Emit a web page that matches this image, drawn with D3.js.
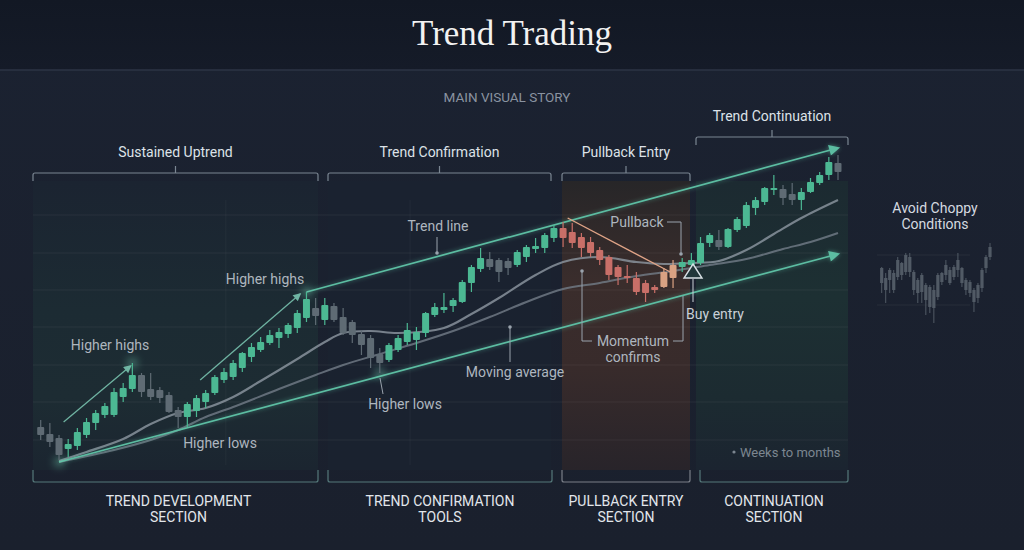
<!DOCTYPE html>
<html><head><meta charset="utf-8">
<script src="https://cdn.jsdelivr.net/npm/d3@7"></script>
<style>html,body{margin:0;padding:0;background:#1a2130;}svg{display:block}</style>
</head><body><svg id="chart" width="1024" height="550"></svg>
<script>
// ---------- DATA ----------
const opens  = [43,36,32,21,24,35,47,55,55,73, 81,95,81,80,75,60,53,59,68,77, 90,93,102,113,120,127,132,136,142,152, 162,150,164,153,148,136,132,116,110,120, 128,130,137,155,160,164,168,187,201,211, 210,209,205,213,221,222,232,242,238,233, 228,220,213,203,194,192,187,183,183,192, 203,205,207,227,230,223,240,244,262,268, 280,281,276,270,278,287,295,307];
const highs  = [50,47,35,31,42,52,60,67,82,87, 107,97,97,83,78,63,68,75,80,95, 102,110,118,127,133,140,142,147,160,178, 172,172,167,162,150,140,135,122,127,135, 147,143,158,167,177,172,190,205,222,218, 212,212,220,225,232,237,245,248,247,237, 233,223,215,205,205,198,190,185,202,210, 212,217,233,237,240,242,253,268,273,283, 295,285,287,282,292,298,313,315];
const lows   = [30,23,10,13,20,32,40,52,53,68, 78,73,70,67,57,42,43,53,62,75, 87,90,98,108,118,125,122,132,137,148, 145,145,148,135,127,115,102,97,108,118, 125,120,133,153,157,158,167,178,198,200, 188,195,203,208,217,217,228,223,222,213, 213,205,190,185,187,175,168,177,182,182, 198,202,205,223,220,222,238,242,255,265, 275,265,265,260,277,285,290,290];
const closes = [35,28,15,26,38,48,57,64,78,82, 95,78,73,72,58,53,66,72,77,93, 98,107,117,123,128,135,138,145,157,171, 154,165,150,137,135,125,112,107,125,132, 140,138,157,163,163,170,188,203,212,203, 198,202,218,223,224,235,242,232,227,222, 217,210,195,193,192,178,177,180,198,205, 208,210,227,235,223,241,251,265,270,282, 282,272,270,278,288,295,308,298];

const fastMAIdx = [2,5,9,12,15,18,21,24,28,31,33,36,39,44,47,50,54,57,61,65,68,71,74,77,80,83,87];
const fastMA    = [9,18,31,46,57,62,73,89,111,128,137,139,137,142,156,172,195,208,213,208,206,207,209,220,236,252,270];
const slowMAIdx = [2,8,12,15,18,21,26,30,33,37,41,45,49,53,57,61,65,69,73,77,81,84,87];
const slowMA    = [8,20,30,40,53,63,81,95,105,116,127,139,153,168,181,187,194,199,205,211,221,228,237];

const channelTop = [[29,178],[87,322]];
const channelBottom = [[2,8],[87,216]];
const higherHighs1 = [[2.5,48],[9.8,104]];
const higherHighs2 = [[17.4,90],[28.3,176]];
const pullbackLine = [[57.5,252],[68.7,198]];
const pullbackRange = [57,69];

const chopOpens  = [187,192,190,197,193,207,198,213,198,190,178,185,183,180,173,188,195,200,193,200,202,190,188,180,172,182,202,213];
const chopHighs  = [203,197,202,200,213,208,217,217,200,192,197,187,185,185,197,198,210,203,205,217,203,192,190,182,187,202,215,227];
const chopLows   = [177,167,177,177,190,190,195,193,175,167,167,155,157,147,170,185,190,185,190,193,183,175,173,158,167,178,197,210];
const chopCloses = [202,180,200,180,210,195,215,198,180,177,195,170,163,162,195,197,205,187,203,210,187,180,177,168,185,200,213,223];

const topSections = [
  {label:"Sustained Uptrend", x0:33, x1:318, y:173},
  {label:"Trend Confirmation", x0:328, x1:551, y:173},
  {label:"Pullback Entry", x0:562, x1:690, y:173},
  {label:"Trend Continuation", x0:696, x1:848, y:137}
];
const bottomSections = [
  {lines:["TREND DEVELOPMENT","SECTION"], x0:33, x1:318},
  {lines:["TREND CONFIRMATION","TOOLS"], x0:328, x1:552},
  {lines:["PULLBACK ENTRY","SECTION"], x0:562, x1:690},
  {lines:["CONTINUATION","SECTION"], x0:700, x1:848}
];

// ---------- SETUP ----------
const svg = d3.select("#chart");
const W = 1024, H = 550;
const x = d3.scaleLinear().domain([0, 87]).range([40.7, 838]);
const y = d3.scaleLinear().domain([0, 320]).range([470, 150]);
const xc = d3.scaleLinear().domain([0, 27]).range([881.7, 990]);

const defs = svg.append("defs");
const glow = defs.append("filter").attr("id","glow").attr("x","-20%").attr("y","-50%").attr("width","140%").attr("height","200%");
glow.append("feGaussianBlur").attr("stdDeviation",2).attr("result","b");
const ct = glow.append("feComponentTransfer").attr("in","b").attr("result","b2");
ct.append("feFuncA").attr("type","linear").attr("slope",0.6);
const fm = glow.append("feMerge"); fm.append("feMergeNode").attr("in","b2"); fm.append("feMergeNode").attr("in","SourceGraphic");
const glow2 = defs.append("filter").attr("id","softglow").attr("x","-100%").attr("y","-100%").attr("width","300%").attr("height","300%");
glow2.append("feGaussianBlur").attr("stdDeviation",4);

function vgrad(id, stops){
  const g = defs.append("linearGradient").attr("id",id).attr("x1",0).attr("y1",0).attr("x2",0).attr("y2",1);
  stops.forEach(s=>g.append("stop").attr("offset",s[0]).attr("stop-color",s[1]));
}
vgrad("bgGrad",[[0,"#1b2231"],[1,"#1a202d"]]);
vgrad("hdrGrad",[[0,"#121824"],[1,"#151b28"]]);
vgrad("s1",[[0,"#1b2431"],[0.45,"#1c2b33"],[0.75,"#1d2c33"],[1,"#1b2530"]]);
vgrad("s2",[[0,"#1a2230"],[1,"#1a222f"]]);
vgrad("s3",[[0,"#272628"],[0.35,"#3a2d2c"],[0.65,"#382b2b"],[1,"#28242a"]]);
vgrad("s4",[[0,"#1c2a31"],[0.4,"#1d3033"],[0.75,"#1c2b31"],[1,"#1b2430"]]);

const mk = (id, color, w, h) => {
  defs.append("marker").attr("id",id).attr("viewBox","0 0 10 10").attr("refX",8).attr("refY",5)
    .attr("markerWidth",w).attr("markerHeight",h).attr("orient","auto").attr("markerUnits","userSpaceOnUse")
    .append("path").attr("d","M0,0 L10,5 L0,10 z").attr("fill",color);
};
mk("arrowBig","#5cbda2",15,11);
mk("arrowSmall","#6fb3a2",9,8);

// ---------- BACKGROUND ----------
svg.append("rect").attr("width",W).attr("height",H).attr("fill","url(#bgGrad)");
svg.append("rect").attr("width",W).attr("height",70).attr("fill","url(#hdrGrad)");
svg.append("line").attr("x1",0).attr("x2",W).attr("y1",70).attr("y2",70).attr("stroke","#2d3545").attr("stroke-width",1.5);

svg.append("text").attr("x",512).attr("y",45).attr("text-anchor","middle")
  .attr("font-family","'Liberation Serif','DejaVu Serif',serif").attr("font-size",35).attr("fill","#f2f2f2").text("Trend Trading");
svg.append("text").attr("x",507).attr("y",102).attr("text-anchor","middle")
  .attr("font-family","Roboto,sans-serif").attr("font-size",13.5).attr("fill","#8a93a0").text("MAIN VISUAL STORY");

// section panels
const panelFills = ["url(#s1)","url(#s2)","url(#s3)","url(#s4)"];
topSections.forEach((s,i)=>{
  svg.append("rect").attr("x",s.x0).attr("y",181).attr("width",s.x1-s.x0).attr("height",289).attr("fill",panelFills[i]);
});

// grid
const gridVals = [255,217,180,143,105,68,30];
svg.append("g").selectAll("line").data(gridVals).join("line")
  .attr("x1",33).attr("x2",848).attr("y1",d=>y(d)).attr("y2",d=>y(d))
  .attr("stroke","#ffffff").attr("stroke-opacity",0.06);
svg.append("g").selectAll("line").data([20.2,40.3]).join("line")
  .attr("x1",d=>x(d)).attr("x2",d=>x(d)).attr("y1",200).attr("y2",465)
  .attr("stroke","#ffffff").attr("stroke-opacity",0.04);

// brackets top
const bc = "#7b8692";
topSections.forEach(s=>{
  const mid=(s.x0+s.x1)/2;
  svg.append("path").attr("d",`M${s.x0},${s.y+8} L${s.x0},${s.y+2} Q${s.x0},${s.y} ${s.x0+2},${s.y} L${s.x1-2},${s.y} Q${s.x1},${s.y} ${s.x1},${s.y+2} L${s.x1},${s.y+8} M${mid},${s.y} L${mid},${s.y-7}`)
    .attr("fill","none").attr("stroke",bc).attr("stroke-width",1.2);
  svg.append("text").attr("x",mid).attr("y",s.y-16).attr("text-anchor","middle")
    .attr("font-family","Roboto,sans-serif").attr("font-size",14).attr("fill","#dde2e8").text(s.label);
});
// brackets bottom
bottomSections.forEach((s,i)=>{
  const yb=482;
  svg.append("path").attr("d",`M${s.x0},470 L${s.x0},${yb-2} Q${s.x0},${yb} ${s.x0+2},${yb} L${s.x1-2},${yb} Q${s.x1},${yb} ${s.x1},${yb-2} L${s.x1},470`)
    .attr("fill","none").attr("stroke", i===2?"#7a7f88":"#55787a").attr("stroke-width",1.2);
  const mid=(s.x0+s.x1)/2 + (i===0?3:0);
  s.lines.forEach((t,j)=>{
    svg.append("text").attr("x",mid).attr("y",506+j*16).attr("text-anchor","middle")
      .attr("font-family","Roboto,sans-serif").attr("font-size",14).attr("fill","#e2e6eb").text(t);
  });
});

// ---------- MOVING AVERAGES ----------
const line = d3.line().x(d=>x(d[0])).y(d=>y(d[1])).curve(d3.curveCatmullRom.alpha(0.5));
svg.append("path").datum(slowMAIdx.map((d,i)=>[d,slowMA[i]])).attr("d",line)
  .attr("fill","none").attr("stroke","#737d88").attr("stroke-width",2).attr("stroke-opacity",0.8);
svg.append("path").datum(fastMAIdx.map((d,i)=>[d,fastMA[i]])).attr("d",line)
  .attr("fill","none").attr("stroke","#8f98a3").attr("stroke-width",2.2).attr("stroke-opacity",0.8);

// ---------- TREND LINES ----------
const sline = d3.line().x(d=>x(d[0])).y(d=>y(d[1]));
[channelTop, channelBottom].forEach(c=>{
  svg.append("path").datum(c).attr("d",sline).attr("stroke","#5cbda2").attr("stroke-width",1.7).attr("fill","none")
    .attr("filter","url(#glow)").attr("marker-end","url(#arrowBig)");
});
[higherHighs1, higherHighs2].forEach(c=>{
  svg.append("path").datum(c).attr("d",sline).attr("stroke","#6fb3a2").attr("stroke-width",1.3).attr("fill","none")
    .attr("marker-end","url(#arrowSmall)");
});
svg.append("path").datum(pullbackLine).attr("d",sline).attr("stroke","#e0a487").attr("stroke-width",1.4).attr("fill","none");

// glow points
[[10,107],[29,178],[2,8],[37,97]].forEach(p=>{
  svg.append("circle").attr("cx",x(p[0])).attr("cy",y(p[1])).attr("r",5).attr("fill","#7fe0c0").attr("opacity",0.45).attr("filter","url(#softglow)");
});

// ---------- CANDLES ----------
const candles = opens.map((o,i)=>({i,o,h:highs[i],l:lows[i],c:closes[i]}));
function color(d){
  const bull = d.c >= d.o;
  if (d.i>=pullbackRange[0] && d.i<=pullbackRange[1]) return bull ? "#d9a283" : "#c86f68";
  return bull ? "#4cb893" : "#5f6b74";
}
const cg = svg.append("g");
cg.selectAll("line").data(candles).join("line")
  .attr("x1",d=>x(d.i)).attr("x2",d=>x(d.i)).attr("y1",d=>y(d.h)).attr("y2",d=>y(d.l))
  .attr("stroke",color).attr("stroke-width",1.2);
cg.selectAll("rect").data(candles).join("rect")
  .attr("x",d=>x(d.i)-3.5).attr("width",7)
  .attr("y",d=>y(Math.max(d.o,d.c))).attr("height",d=>Math.max(2,Math.abs(y(d.o)-y(d.c))))
  .attr("rx",1).attr("fill",color);

// ---------- CHOPPY ----------
const chop = chopOpens.map((o,i)=>({i,o,h:chopHighs[i],l:chopLows[i],c:chopCloses[i]}));
const chg = svg.append("g").attr("opacity",0.8);
chg.selectAll("line.h").data([215,165]).join("line").attr("x1",877).attr("x2",970)
  .attr("y1",d=>y(d)).attr("y2",d=>y(d)).attr("stroke","#ffffff").attr("stroke-opacity",0.07);
chg.selectAll("line.w").data(chop).join("line").attr("class","w")
  .attr("x1",d=>xc(d.i)).attr("x2",d=>xc(d.i)).attr("y1",d=>y(d.h)).attr("y2",d=>y(d.l))
  .attr("stroke","#5f6973").attr("stroke-width",1);
chg.selectAll("rect").data(chop).join("rect")
  .attr("x",d=>xc(d.i)-1.6).attr("width",3.2)
  .attr("y",d=>y(Math.max(d.o,d.c))).attr("height",d=>Math.max(2,Math.abs(y(d.o)-y(d.c))))
  .attr("fill","#5f6973");

// ---------- ANNOTATIONS ----------
const ann = svg.append("g").attr("font-family","Roboto,sans-serif").attr("font-size",14).attr("text-anchor","middle");
const T = (tx,ty,t,fill) => ann.append("text").attr("x",tx).attr("y",ty).attr("fill",fill||"#aeb6bf").text(t);
T(110,350,"Higher highs");
T(265,284,"Higher highs");
T(220,448,"Higher lows");
T(405,409,"Higher lows");
T(438,231,"Trend line");
T(515,377,"Moving average");
T(637,227,"Pullback");
T(633,346,"Momentum");
T(633,362,"confirms");
T(715,319,"Buy entry","#c9d0d7");
T(935,213,"Avoid Choppy","#d5dae0");
T(935,229,"Conditions","#d5dae0");
ann.append("text").attr("x",740).attr("y",457).attr("text-anchor","start").attr("fill","#7c8690").attr("font-size",13).text("Weeks to months");
ann.append("circle").attr("cx",734).attr("cy",452).attr("r",1.6).attr("fill","#7c8690");

const conn = svg.append("g").attr("fill","none").attr("stroke","#9aa3ad").attr("stroke-width",1);
conn.append("path").attr("d","M380,378 L383,394");
conn.append("path").attr("d","M437,237 L437,253");
conn.append("path").attr("d","M510,327 L510,362");
conn.append("path").attr("d","M667,222 L681,222 L681,254");
conn.append("path").attr("d","M582,271 L582,341 L592,341 M673,341 L683,341 L683,296");
conn.append("path").attr("d","M693,279 L693,302").attr("stroke","#c9d0d7");
svg.append("g").selectAll("circle").data([[437,253],[510,327],[681,254],[582,271]]).join("circle")
  .attr("cx",d=>d[0]).attr("cy",d=>d[1]).attr("r",1.8).attr("fill","#9aa3ad");
// buy triangle
svg.append("path").attr("d","M693,264 L702,278 L684,278 Z").attr("fill","#22373a").attr("stroke","#d8e0e4").attr("stroke-width",1.4);
</script></body></html>
